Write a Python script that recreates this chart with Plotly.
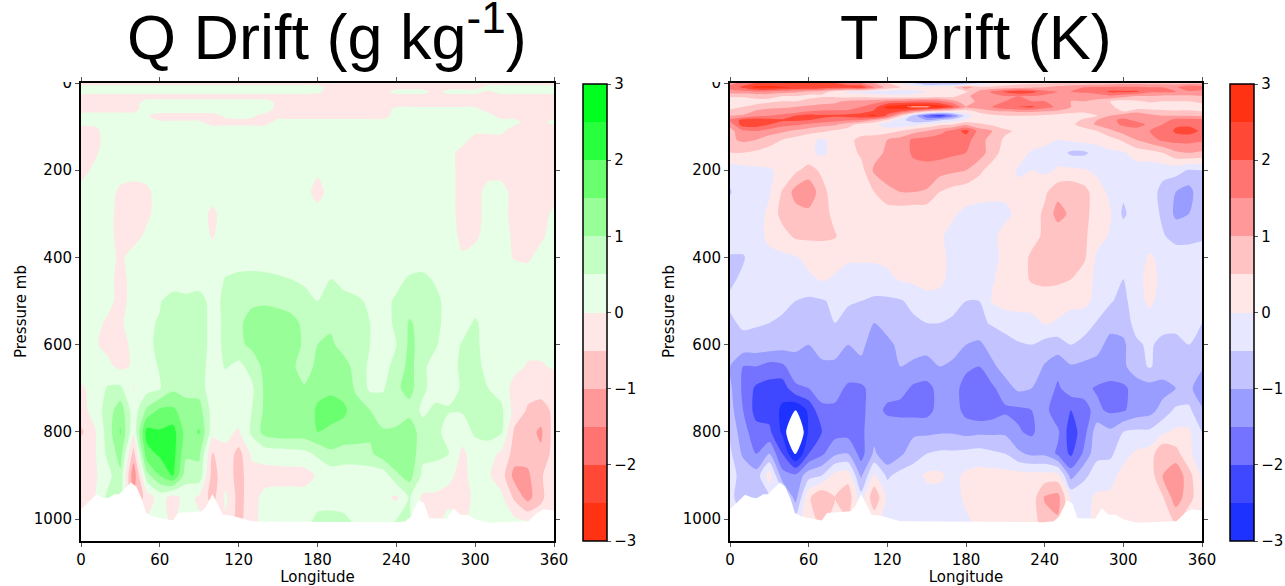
import plotly.graph_objects as go

WIDTH, HEIGHT = 1285, 586

longitudes = list(range(0, 370, 10))
q_pressure = [0,10,20,30,45,60,75,90,105,130,160,200,250,300,350,400,450,500,550,600,650,700,750,800,850,900,950,1010]
t_pressure = [0,10,20,30,42,55,65,75,85,95,110,130,160,200,250,300,350,400,450,500,550,600,650,700,750,800,850,900,950,1010]
x_ticks = [0,60,120,180,240,300,360]
y_ticks = [0,200,400,600,800,1000]
bar_ticks = [-3,-2,-1,0,1,2,3]

surface_lon = [0,5,11.5,16.7,20.4,25.4,29,33,38,42,46,49.5,54.5,61,70,74,79,92,95.5,100,103,108,115,122,130,239,247,251,257,261,265,268.5,278.5,283.6,288.7,293.8,300,310,340.5,347,352,360]
surface_p = [977,962,944,950,952,943,943,931,916,925,952,986,994,998,1003,986,985,982,971,942,960,990,992,998,1005,1007,1005,994,957,963,998,998,999,975,990,990,1000,1008,1005,986,977,980]
floor_lon = [360,0]
floor_p = [1050,1050]

q_colors = ['#ff3214','#ff554b','#ff8080','#ffa0a0','#ffc8c8','#ffe8e8','#e8ffe8','#c8ffc8','#a0ffa0','#7aff7a','#40ff50','#00ff1e']
t_colors = ['#1e32ff','#5555ff','#8080ff','#a0a5ff','#c8c8ff','#e8e8ff','#ffe8e8','#ffc8c8','#ffa0a0','#ff8080','#ff554b','#ff3214']

q_drift = [
[-.1]*37,
[.1]*19+[-.1]*12+[.1]*6,
[.1]*18+[.05]+[-.1]*5+[.1]*3+[-.1]+[.1]*3+[-.05]+[.1]*5,
[-.1]*37,
[-.1]*5+[.1]*10+[-.05]+[-.1]*21,
[-.1]*5+[.15]*10+[-.1]*9+[.05]*7+[-.1]*6,
[.1]*5+[.02,-.1,-.1,-.1,-.1,-.1]+[.05,.1,.05]+[-.1]*10+[.1]*8+[-.1]*5,
[.1]*6+[.03]*4+[-.1]*5+[.1]*19+[-.1,-.1,.1],
[-.1,-.05]+[.1]*31+[-.1]*4,
[-.2,-.1]+[.1]*28+[-.1]*7,
[-.15,-.05]+[.1]*27+[-.1]*8,
[-.1,.05]+[.1]*16+[.05]+[.1]*10+[-.1]*8,
[.1,.1,.1,-.05,-.1,-.05]+[.1]*12+[-.1]+[.1]*10+[-.1,-.1,.1,.1]+[-.1]*4,
[.1,.1,.1,-.1,-.1,-.05]+[.1]*4+[-.05]+[.1]*18+[-.1,-.1,.1,.1,-.1,-.1,-.1,.05],
[.1,.1,.1,-.1,-.1,.05]+[.1]*4+[-.02]+[.1]*18+[-.05,-.05,.1,.1,-.05,-.1,-.05,.1],
[.1,.1,.1,-.05]+[.1]*25+[.02,.1,.1,.1,-.02,-.05,.1,.1],
[.1,.1,.1,-.1]+[.1]*7+[.55,.7,.75,.7,.6,.5,.4,.3,.52,.3,.2,.2,.2,.3,.6,.7,.4]+[.15]*9,
[.1,.1,.1,-.1,.1,.1,.45,.8,.7,.85,.2,.7,.9,.9,.95,.9,.8,.7,.5,.8,.7,.6,.4,.3,.6,.8,.8,.7,.2]+[.15]*8,
[.1,.1,-.05,-.1,.3,.4,.55,.8,.8,.8,.3,.6,.9,1.2,1.2,1.2,1.15,.9,.8,.9,.85,.8,.5,.3,.6,1.05,.85,.7,.2,.2,.6,.2]+[.15]*5,
[.15,.05,-.1,-.3,.2,.3,.7,.8,.8,.8,.3,.6,.9,1.1,1.25,1.3,1.3,.9,1.0,1.1,.8,.7,.5,.3,.5,1.1,.85,.55,.2,.55,.65,.2]+[.15]*5,
[.15,.15,.1,-.1,.05,.25,.55,.8,.8,.8,.2,.55,.35,.7,1.15,1.25,1.1,.8,1.1,1.3,1.2,.8,.4,.4,.6,1.2,.6,.3,.3,.6,.7,.3,.2,.15,-.05,-.05,.05],
[-.05,.1,.55,.6,-.02,.3,.45,.9,.85,.8,.15,.2,.2,.4,1.1,1.3,1.1,1.05,1.3,1.4,1.3,.9,.4,.45,.9,1.2,.6,.3,.3,.55,.65,.5,.3,-.2,-.35,-.3,-.3],
[-.2,.2,.7,1.3,.2,1.1,1.6,1.6,1.2,1.2,.3,.2,.2,.5,1.1,1.2,1.1,1.1,1.6,1.7,1.6,1.2,1.0,.75,.7,.8,.4,.6,.55,.55,1.0,.6,.6,-.2,-.55,-.7,-.4],
[-.6,-.1,.7,1.55,.1,2.2,2.05,2.2,1.3,1.55,.2,.1,-.05,.6,1.2,1.3,1.3,1.3,1.5,1.4,1.3,1.25,1.1,1.05,1.1,1.35,.7,.7,.2,.2,.6,.7,.55,-.6,-.8,-1.1,-.3],
[-.15,-.1,.6,1.2,-.7,1.8,2.1,2.2,1.1,1.1,-.55,-.1,-.7,.1,.2,.25,.3,.35,.6,.9,.8,.8,.9,1.3,1.4,1.4,.6,.6,.5,-.1,.2,.2,-.1,-.7,-.8,-.9,-.3],
[-.2,-.1,.3,.9,-1.4,.8,1.5,2.05,.7,.8,-.7,-.2,-.7,-.2,-.2,-.2,-.2,-.2,.05,.2,.2,.2,.2,.2,.9,1.2,.4,.3,.1,-.15,.2,.05,-.25,-1.2,-1.1,-.55,-.25],
[-.2,-.1,.6,.7,-1,-.3,.2,-.2,.2,-.1,-.7,.1,-.7,-.2,.15,.2,.2,.2,.25,.2,.2,.2,.2,.15,-.1,.55,-.1,-.1,-.15,-.2,.1,.1,.1,-.6,-1.2,-.6,-.2],
[-.1]*5+[.1,.2,-.1,.6,.1,-.2,-.1,-.7,-.1,.1,.2,.2,.3,.7,.8,.7,.4,.2,.2,.6,.6,-.1,-.1,.2,-.1,.2,.2,.2,.2,.1,-.2,-.1],
]

t_drift = [
[1.2,1.8,2,2,2,2,2,2,2,1.8,1.5,1,.5,0,-.5,-1,-1,-1,-1,-.5,0,.2,.3,.4,.4,.5,.5,.6,.6,.7,.8,.8,.8,.8,.8,.8,.8],
[1.8,2.1,2.7,2.8,2.6,2.5,2.5,2.4,2.2,2.2,2.4,1.5,.8,.5,.3,.2,.3,.4,1.3,.7,.6,.7,.8,.9,1.0,1.2,1.4,1.5,1.6,1.6,1.6,1.6,1.5,1.5,1.4,2.0,1.8],
[1.2,1.3,1.4,1.4,1.2,1.1,.9,.7,.3,-.1,-.2,-.2,-.2,-.25,-.1,0,.1,.1,.4,1.1,1.6,2.1,2.4,2.2,1.7,1.5,1.5,1.6,1.7,2.1,2.1,2.1,1.6,1.6,1.5,1.4,1.3],
[.6,.6,.7,.6,.5,.5,.3,.4,.4,.3,.3,.2,.1,.1,.1,.2,.3,.3,.9,1.2,1.3,1.5,1.5,1.5,1.4,1.2,1.2,1.2,1.3,1.4,1.2,1.0,1.0,.9,.9,.9,1.0],
[.1,.15,.3,.4,.5,.5,.7,.9,.9,1.1,1.2,1.3,1.5,1.6,1.7,1.7,1.6,1.2,.6,1.2,1.4,1.5,1.6,1.5,1.5,1.5,1.0,1.0,.8,.5,.3,.4,.6,.5,.5,.5,.6],
[.3,.5,.7,.8,.9,1.0,1.1,1.1,1.2,1.3,1.5,1.8,2.7,2.9,3.1,3.1,2.8,2.1,1.0,1.3,1.5,1.9,2.0,2.1,1.7,1.4,1.0,.9,.7,.6,.3,.2,.1,.1,.1,.2,.3],
[.7,.6,1.1,1.3,1.3,1.2,1.5,1.6,1.6,1.6,1.7,2.1,2.2,2.0,1.4,.7,.4,.2,.3,.6,.9,1.0,1.1,1.1,1.0,.9,.7,.6,.6,.6,.5,.8,.8,.7,.6,.6,.5],
[1.0,1.1,1.4,1.5,1.6,2.0,2.2,2.1,2.1,2.2,2.4,2.6,1.9,.6,-.7,-1.9,-2.4,-1.5,-.3,.3,.4,.5,.5,.5,.4,.3,.2,.25,.5,1.0,1.3,1.5,1.1,1.0,1.0,1.0,.9],
[1.6,2.2,2.3,2.2,2.1,2.1,2.0,1.9,1.7,1.6,1.5,1.0,.4,-.3,-.8,-1.0,-.6,-.3,.1,.2,.2,.2,.15,.2,.2,.2,.25,.6,1.0,1.4,1.6,1.4,1.2,1.2,1.7,1.7,1.7],
[1.2,2.3,2.3,2.0,1.7,1.6,1.4,1.2,1.1,.7,.3,.1,-.3,-.4,-.2,.1,.4,.5,.9,.6,.4,.2,.2,.3,.25,.2,.4,.7,1.1,1.3,1.6,1.7,1.4,1.5,1.9,1.9,1.8],
[.8,1.4,1.5,1.3,1.1,.9,.7,.6,.4,.3,.2,.2,.3,.5,.8,1.0,1.3,1.7,2.2,1.3,1.0,.6,.4,.4,.1,.2,.35,.3,.5,.9,1.2,1.3,1.5,1.6,2.1,2.2,1.9],
[.9,1.1,1.0,.7,.5,.3,.1,-.05,.1,.3,.7,.8,1.0,1.2,1.6,1.7,1.8,1.8,1.7,1.2,.8,.4,.3,.2,.1,0,.1,.2,.2,.3,.6,1.0,1.3,1.6,1.7,1.7,1.6],
[.5,.5,.4,.3,.3,.2,.1,-.1,.2,.25,.6,.8,1.1,1.2,1.6,1.7,1.7,1.6,1.5,1.3,.7,.3,.2,-.05,-.1,-.2,-.6,-.6,-.3,-.1,-.05,.2,.3,.5,.9,1.0,.9],
[-.3,-.2,-.1,-.05,.1,.4,.7,.4,.2,.25,.3,1.1,1.2,1.2,1.3,1.3,1.2,1.1,1.0,.6,.3,.2,-.05,0,-.1,.05,.1,.05,-.1,-.2,-.2,-.2,-.3,-.3,-.3,-.55,-.5],
[-.55,-.2,-.15,-.05,.55,1.2,1.4,.7,.2,.2,.3,.5,.9,1.0,1.0,.95,.5,.3,.2,.2,.15,.1,.1,.2,.4,.85,.9,.7,.2,-.1,-.4,-.3,-.2,-.7,-1.0,-1.2,-.6],
[-.2,-.2,-.2,.1,.7,.8,.85,.8,.3,.2,.2,.2,.2,.2,.15,.15,.15,.05,-.1,-.2,-.2,-.1,.1,.25,.6,1.2,.9,.7,.2,.05,-.6,-.2,-.2,-.6,-1.1,-1.0,-.5],
[-.2,-.2,-.15,.1,.3,.6,.6,.6,.55,.2,.2,.3,.2,.2,.2,.2,.05,-.1,-.2,-.2,-.1,.15,.2,.3,.6,.7,.8,.6,.2,-.05,-.2,-.2,-.2,-.45,-.7,-.7,-.6],
[-.55,-.55,-.2,-.1,-.1,-.05,.15,.2,.15,.05,.05,.05,.1,.2,.2,.2,.1,-.1,-.2,-.2,-.1,.1,.2,.6,.7,.7,.7,.6,-.1,-.2,-.2,-.2,.05,-.1,-.2,-.2,-.2],
[-.6,-.4,-.15,-.15,-.15,-.1,-.1,.05,-.05,-.15,-.15,-.15,-.1,.05,.1,.2,.1,-.15,-.2,-.2,-.05,.2,.3,.55,.6,.6,.5,.2,-.1,-.2,-.5,-.15,.15,-.1,-.2,-.2,-.25],
[-.4,-.3,-.2,-.25,-.35,-.5,-.6,-.55,-.4,-.45,-.5,-.6,-.6,-.55,-.35,-.2,-.15,-.3,-.5,-.5,.05,.2,.2,.25,.3,.2,.2,.1,-.1,-.45,-.65,-.2,.1,-.2,-.2,-.25,-.25],
[-.6,-.4,-.45,-.5,-.6,-.7,-.7,-.6,-.5,-.65,-.7,-1.0,-.7,-.7,-.6,-.5,-.5,-.6,-.7,-.6,-.45,-.3,-.2,-.2,.05,-.05,-.3,-.2,-.55,-.8,-.8,-.3,-.2,-.25,-.3,-.3,-.5],
[-.8,-.7,-.7,-.7,-.8,-.9,-1.0,-.8,-.8,-1.0,-.9,-1.2,-1.2,-.8,-.8,-.9,-.8,-.8,-1.0,-1.1,-.8,-.7,-.55,-.5,-.7,-.75,-.5,-.7,-.8,-1.2,-1.1,-.6,-.4,-.7,-.7,-.5,-.5],
[-1.0,-1.5,-1.5,-1.7,-1.6,-1.2,-1.2,-1.1,-1.1,-1.2,-1.1,-1.3,-1.1,-1.0,-1.1,-1.1,-1.0,-1.1,-1.4,-1.5,-1.1,-.8,-.7,-.7,-1.05,-1.3,-1.05,-1.1,-1.2,-1.3,-1.1,-.7,-.45,-.7,-.8,-.8,-.9],
[-.9,-1.6,-2.1,-2.2,-2.3,-1.6,-1.5,-1.3,-1.3,-1.6,-1.6,-1.3,-1.3,-1.3,-1.6,-1.7,-1.3,-1.3,-1.7,-1.8,-1.6,-1.2,-.9,-1.0,-1.1,-1.6,-1.2,-1.4,-1.55,-1.6,-1.6,-1.3,-1.2,-1.2,-1.0,-.8,-1.5],
[-.8,-1.5,-2.2,-2.2,-2.6,-3.0,-2.4,-1.6,-1.6,-1.9,-1.6,-1.3,-1.6,-1.7,-1.7,-1.7,-1.3,-1.2,-1.7,-1.9,-1.8,-1.6,-1.6,-1.5,-1.3,-1.9,-2.0,-1.6,-1.4,-1.6,-1.55,-1.3,-1.2,-.8,-.4,-.4,-.9],
[-.6,-1.3,-1.8,-1.9,-2.6,-4.0,-2.4,-2.0,-1.7,-1.7,-1.6,-1.2,-1.2,-1.1,-1.1,-1.1,-1.05,-1.05,-1.15,-1.1,-1.1,-1.1,-1.45,-1.6,-1.2,-1.4,-2.3,-1.7,-.7,-.9,-.5,-.4,-.4,-.1,.1,.1,-.5],
[-.4,-1.1,-1.5,-1.0,-2.0,-3.1,-2.0,-1.6,-1.1,-1.0,-1.7,-.9,-1.4,-1.1,-.7,-.5,-.4,-.4,-.35,-.3,-.4,-.5,-.9,-1.1,-1.1,-1.6,-2.1,-1.4,-.6,-.6,-.2,.1,.2,1.0,.7,.1,-.3],
[-.4,-.6,-.8,.3,-1.3,-1.4,-.7,-.5,.2,.3,-1.1,.1,-.6,-.3,-.25,.1,.1,-.15,.1,.2,.2,.2,.2,.2,.2,.2,-1.2,-.6,-.3,-.2,.2,.2,.2,1.0,1.4,.7,-.1],
[-.3,-.9,-.9,-.5,-.2,-1.2,.4,1.0,.5,.8,-.3,.9,-.1,-.2,-.2,-.2,-.2,-.2,.1,.2,.2,.2,.2,.2,1.05,1.2,-.1,-.2,.1,.1,.2,.2,.2,.45,1.3,.7,.1],
[-.3,-.3,-.3,-.3,-.3,-.2,.3,.6,.3,.4,-.2,.1,-.2,-.2,-.2,-.2,-.2,-.2,-.1,.1,.2,.2,.2,.2,.8,.9,-.2,-.2,.2,.05,.2,.2,.2,.2,.5,.1,-.2],
]


def scale_from(colors):
    """Band colours placed where Plotly samples a filled contour band."""
    n = len(colors) + 1
    stops = [[0, colors[0]]]
    stops += [[(i + 1) / n, c] for i, c in enumerate(colors)]
    stops += [[1, colors[-1]]]
    return stops


def px(x):
    return x / WIDTH


def py(y):
    return 1 - y / HEIGHT


fig = go.Figure()
CLEAR = 'rgba(255,255,255,0)'
OFF_SCALE = [[0, CLEAR], [0.25, CLEAR], [0.25, 'white'], [1, 'white']]


def add_panel(z, pressure, colors, xa, ya, bar_x):
    fig.add_trace(go.Contour(
        x=longitudes, y=pressure, z=z, xaxis=xa, yaxis=ya, colorscale=scale_from(colors),
        zmin=-3, zmax=3, hoverinfo='skip', line=dict(width=0, smoothing=0.7),
        contours=dict(start=-3, end=3, size=0.5, coloring='fill', showlines=False),
        colorbar=dict(
            x=px(bar_x), xanchor='left', xpad=0, ypad=0, y=py(84), yanchor='top',
            len=457 / HEIGHT, lenmode='fraction', thickness=24, thicknessmode='pixels',
            outlinecolor='black', outlinewidth=1.5, ticks='outside', ticklen=4, tickcolor='#555555',
            tickvals=bar_ticks, tickfont=dict(family='DejaVu Sans', size=15, color='black'),
        ),
    ))
    # Values beyond the colour range stay unfilled, as in the reference.
    fig.add_trace(go.Contour(
        x=longitudes, y=pressure, z=[[abs(v) for v in row] for row in z], xaxis=xa, yaxis=ya,
        showscale=False, hoverinfo='skip', colorscale=OFF_SCALE, autocontour=False,
        contours=dict(start=3, end=100, size=97, coloring='fill', showlines=False),
        line=dict(width=0, smoothing=0.7),
    ))
    fig.add_trace(go.Scatter(
        x=surface_lon + floor_lon, y=surface_p + floor_p, xaxis=xa, yaxis=ya, mode='lines',
        fill='toself', fillcolor='white', line=dict(width=0), hoverinfo='skip', showlegend=False,
    ))


add_panel(q_drift, q_pressure, q_colors, 'x', 'y', 583)
add_panel(t_drift, t_pressure, t_colors, 'x2', 'y2', 1230)

tick_font = dict(family='DejaVu Sans', size=15, color='black')
axis_common = dict(showgrid=False, zeroline=False, showline=True, linecolor='black', linewidth=2, automargin=False,
                   mirror='ticks', ticks='outside', ticklen=4, tickcolor='#555555', tickwidth=1, tickfont=tick_font)


def x_axis(left, right, anchor):
    return dict(axis_common, domain=[px(left), px(right)], range=[0, 360], tickvals=x_ticks, anchor=anchor,
                title=dict(text='Longitude', font=tick_font))


def y_axis(anchor):
    return dict(axis_common, domain=[py(541), py(83)], range=[1050, 0], tickvals=y_ticks, anchor=anchor)


def paper_text(text, x, y, font, angle=0):
    return dict(text=text, x=px(x), y=py(y), xref='paper', yref='paper', showarrow=False, font=font,
                xanchor='center', yanchor='middle', textangle=angle)


title_font = dict(family='Liberation Sans', size=63, color='black')
fig.update_layout(
    width=WIDTH, height=HEIGHT, autosize=False, margin=dict(l=0, r=0, t=0, b=0),
    paper_bgcolor='white', plot_bgcolor='white', showlegend=False,
    xaxis=x_axis(81, 554, 'y'), yaxis=y_axis('x'),
    xaxis2=x_axis(730, 1202, 'y2'), yaxis2=y_axis('x2'),
    annotations=[
        paper_text('Q Drift (g kg<sup>-1</sup>)', 327, 33, title_font),
        paper_text('T Drift (K)', 976, 37, title_font),
        paper_text('Pressure mb', 21, 312, tick_font, -90),
        paper_text('Pressure mb', 669, 312, tick_font, -90),
    ],
    shapes=[
        dict(type='rect', xref='paper', yref='paper', x0=px(30), x1=px(75), y0=py(82), y1=py(66),
             fillcolor='white', line=dict(width=0), layer='above'),
        dict(type='rect', xref='paper', yref='paper', x0=px(680), x1=px(724), y0=py(82), y1=py(66),
             fillcolor='white', line=dict(width=0), layer='above'),
    ],
)

fig.write_html("out.html", config={'displayModeBar': False}, post_script="document.body.style.margin='0';")
